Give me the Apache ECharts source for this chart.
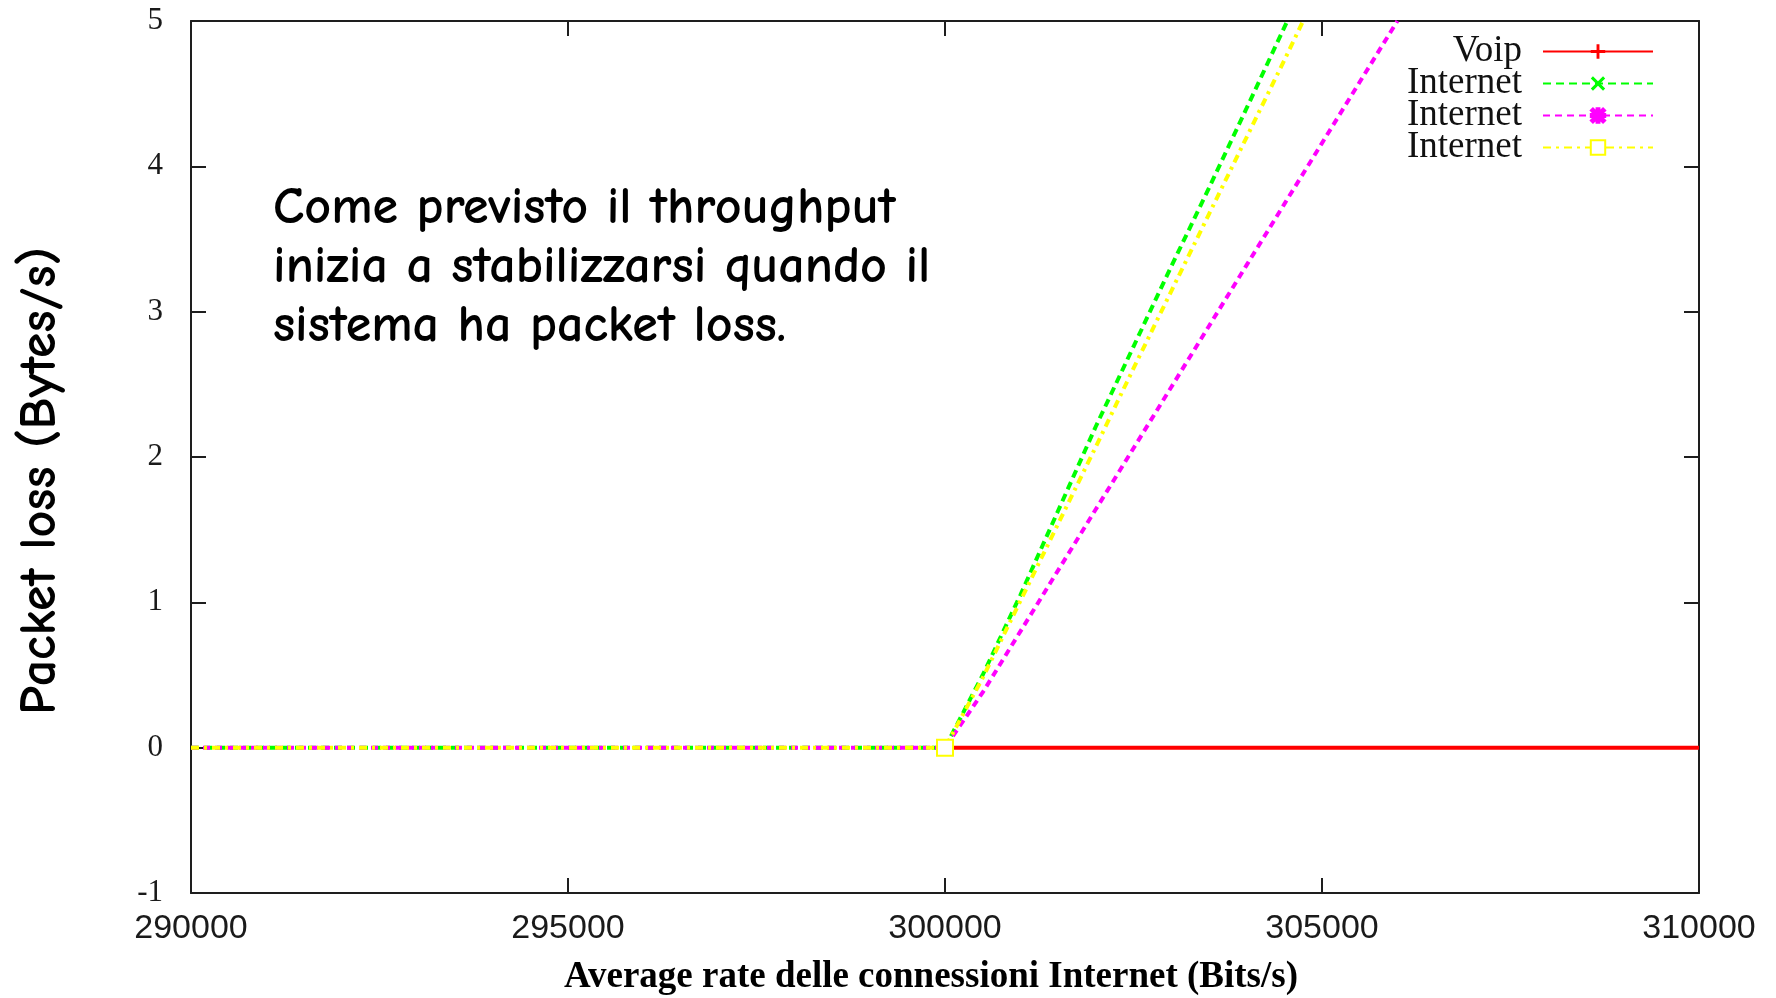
<!DOCTYPE html>
<html>
<head>
<meta charset="utf-8">
<title>Packet loss vs average rate</title>
<script src="https://cdn.jsdelivr.net/npm/echarts@6/dist/echarts.min.js"></script>
<style>
  html, body { margin: 0; padding: 0; background: #fff; }
  #chart { width: 1776px; height: 998px; }
</style>
</head>
<body>
<div id="chart"></div>
<script>
// Axis ticks
const xTicks = [290000, 295000, 300000, 305000, 310000];
const yTicks = [-1, 0, 1, 2, 3, 4, 5];

// Voip: no loss once the rate reaches 300000 bit/s
const rateVoip = [300000, 305000, 310000];
const lossVoip = [0, 0, 0];

// Internet (green)
const rateInternet1 = [290000, 295000, 300000, 300500, 301000, 301500, 302000, 302500, 303000, 303500, 304000, 304540];
const lossInternet1 = [0, 0, 0, 0.50, 1.05, 1.63, 2.21, 2.76, 3.31, 3.85, 4.40, 5.00];

// Internet (magenta)
const rateInternet2 = [290000, 295000, 300000, 300500, 301000, 301500, 302000, 302500, 303000, 303500, 304000, 304500, 305000, 305500, 306000];
const lossInternet2 = [0, 0, 0, 0.38, 0.80, 1.22, 1.64, 2.06, 2.48, 2.90, 3.32, 3.74, 4.16, 4.58, 5.00];

// Internet (yellow)
const rateInternet3 = [290000, 295000, 300000, 300500, 301000, 301500, 302000, 302500, 303000, 303500, 304000, 304500, 304750];
const lossInternet3 = [0, 0, 0, 0.48, 1.01, 1.54, 2.07, 2.61, 3.14, 3.67, 4.20, 4.73, 5.00];

// Legend labels; the three Internet runs share one label, so the series ids
// carry trailing spaces that the legend formatter trims away.
const seriesNames = ['Voip', 'Internet', 'Internet ', 'Internet  '];
const noteLines = [
  'Come previsto il throughput',
  'inizia a stabilizzarsi quando il',
  'sistema ha packet loss.'
];
const yTitle = 'Packet loss (Bytes/s)';
const xTitle = 'Average rate delle connessioni Internet (Bits/s)';

const zip = (xs, ys) => xs.map((x, i) => [x, ys[i]]);

// point markers (gnuplot style)
const plusPath = 'path://M4,0h2v4h4v2h-4v4h-2v-4h-4v-2h4z';
const crossPath = 'path://M0,1.5L1.5,0L5,3.5L8.5,0L10,1.5L6.5,5L10,8.5L8.5,10L5,6.5L1.5,10L0,8.5L3.5,5Z';
const starPath = 'path://M0,1.5L1.5,0L4,2.5V0H6V2.5L8.5,0L10,1.5L7.5,4H10V6H7.5L10,8.5L8.5,10L6,7.5V10H4V7.5L1.5,10L0,8.5L2.5,6H0V4H2.5Z';

const axisColor = '#1e1e1e';
const comic = '"Comic Sans MS", "Comic Neue", "Open Sans", sans-serif';

const chart = echarts.init(document.getElementById('chart'), null, { renderer: 'canvas' });

const xAxisBase = {
  type: 'value',
  min: xTicks[0],
  max: xTicks[xTicks.length - 1],
  interval: xTicks[1] - xTicks[0],
  splitLine: { show: false },
  axisLine: { show: true, onZero: false, lineStyle: { color: axisColor, width: 2 } },
  axisTick: { show: true, inside: true, length: 15, lineStyle: { color: axisColor, width: 2 } }
};
const yAxisBase = {
  type: 'value',
  min: yTicks[0],
  max: yTicks[yTicks.length - 1],
  interval: yTicks[1] - yTicks[0],
  splitLine: { show: false },
  axisLine: { show: true, onZero: false, lineStyle: { color: axisColor, width: 2 } },
  axisTick: { show: true, inside: true, length: 15, lineStyle: { color: axisColor, width: 2 } }
};

chart.setOption({
  animation: false,
  backgroundColor: '#ffffff',
  grid: { left: 191, right: 77, top: 21, bottom: 105, containLabel: false },
  xAxis: [
    Object.assign({}, xAxisBase, {
      position: 'bottom',
      axisLabel: {
        show: true, margin: 19, color: '#1a1a1a',
        fontFamily: '"Liberation Sans", Arial, sans-serif', fontSize: 34,
        formatter: v => String(v)
      }
    }),
    Object.assign({}, xAxisBase, { position: 'top', axisLabel: { show: false } })
  ],
  yAxis: [
    Object.assign({}, yAxisBase, {
      position: 'left',
      axisLabel: {
        show: true, margin: 28, color: '#1a1a1a',
        fontFamily: '"Liberation Serif", "Times New Roman", serif', fontSize: 31,
        formatter: v => String(v)
      }
    }),
    Object.assign({}, yAxisBase, { position: 'right', axisLabel: { show: false } })
  ],
  legend: {
    orient: 'vertical',
    align: 'right',
    right: 122,
    top: 33,
    padding: 0,
    itemGap: -5,
    itemWidth: 110,
    itemHeight: 18,
    selectedMode: false,
    formatter: name => name.trim(),
    textStyle: {
      fontFamily: '"Liberation Serif", "Times New Roman", serif',
      fontSize: 37,
      lineHeight: 32,
      color: '#111',
      padding: [0, 16, 0, 0]
    }
  },
  series: [
    {
      name: seriesNames[0],
      type: 'line',
      data: zip(rateVoip, lossVoip),
      color: '#ff0000',
      symbol: plusPath,
      showSymbol: false,
      lineStyle: { width: 4, color: '#ff0000' },
      z: 2
    },
    {
      name: seriesNames[1],
      type: 'line',
      data: zip(rateInternet1, lossInternet1),
      color: '#00ff00',
      symbol: crossPath,
      showSymbol: false,
      lineStyle: { width: 4, color: '#00ff00', type: [8, 5] },
      z: 3
    },
    {
      name: seriesNames[2],
      type: 'line',
      data: zip(rateInternet2, lossInternet2).map(p =>
        p[0] === 300000 ? { value: p, symbol: 'emptyRect', symbolSize: 8 } : p),
      color: '#ff00ff',
      symbol: starPath,
      symbolSize: 0,
      showSymbol: true,
      showAllSymbol: true,
      itemStyle: { color: '#ff00ff', borderColor: '#ff00ff', borderWidth: 2.5 },
      lineStyle: { width: 4, color: '#ff00ff', type: [7, 5] },
      z: 4
    },
    {
      name: seriesNames[3],
      type: 'line',
      data: zip(rateInternet3, lossInternet3),
      color: '#ffff00',
      symbol: 'emptyRect',
      symbolSize: v => (v[0] === 300000 ? 16 : 0),
      showSymbol: true,
      showAllSymbol: true,
      itemStyle: { color: '#ffff00', borderColor: '#ffff00', borderWidth: 4 },
      lineStyle: { width: 4, color: '#ffff00', type: [8, 5, 3, 5] },
      z: 5
    }
  ],
  graphic: [
    {
      type: 'text',
      left: 273, top: 179,
      z: 10,
      style: {
        text: noteLines.join('\n'),
        font: 'bold 52px ' + comic,
        lineHeight: 59,
        fill: '#000'
      }
    },
    {
      type: 'text',
      x: 40, y: 481,
      rotation: Math.PI / 2,
      z: 10,
      style: {
        text: yTitle,
        font: 'bold 52px ' + comic,
        fill: '#000',
        align: 'center',
        verticalAlign: 'middle'
      }
    },
    {
      type: 'text',
      x: 931, y: 977,
      z: 10,
      style: {
        text: xTitle,
        font: 'bold 37px "Liberation Serif", "Times New Roman", serif',
        fill: '#000',
        align: 'center',
        verticalAlign: 'middle'
      }
    }
  ]
});
</script>
</body>
</html>
